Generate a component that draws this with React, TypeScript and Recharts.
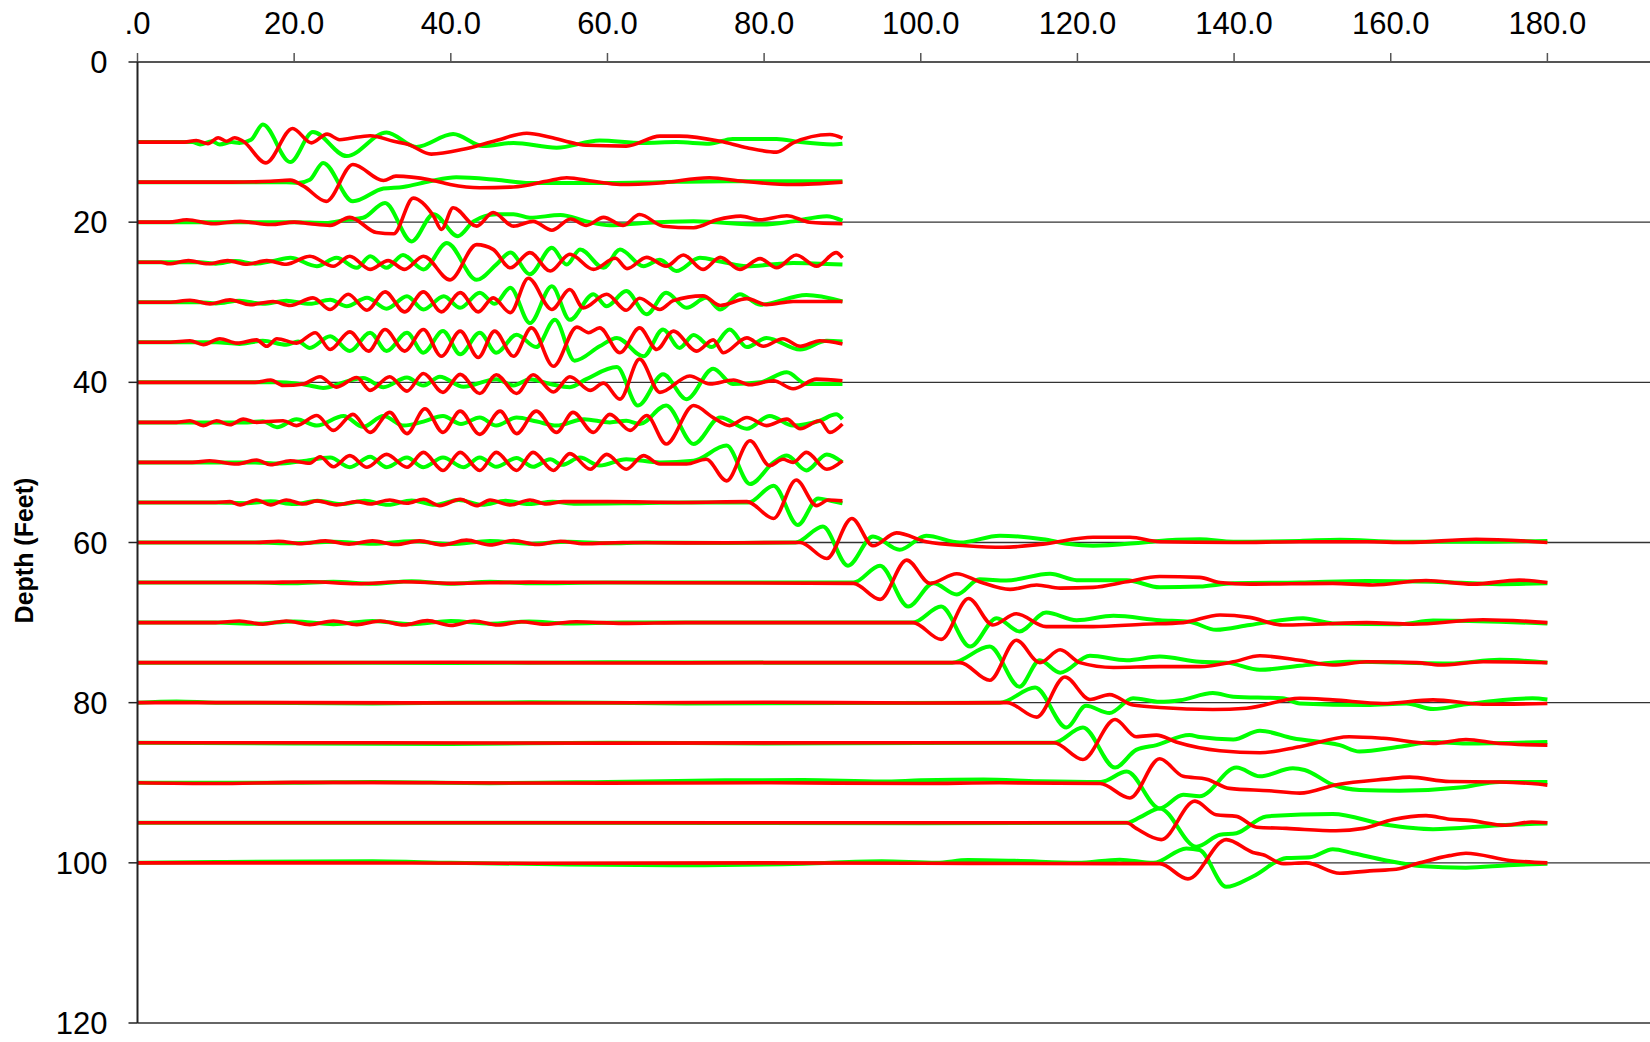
import { LineChart, Line, XAxis, YAxis, CartesianGrid } from 'recharts';

type Pt = [number, number];

// Depth of each trace baseline (feet) and axis ticks
const depths = [10, 15, 20, 25, 30, 35, 40, 45, 50, 55, 60, 65, 70, 75, 80, 85, 90, 95, 100];
const xTicks = [0, 20, 40, 60, 80, 100, 120, 140, 160, 180];
const yTicks = [0, 20, 40, 60, 80, 100, 120];

// Each trace: [x, deflection in feet from its baseline] (positive = deeper)
const g10: Pt[] = [[0,0],[7,0],[8,0.3],[9.5,-0.1],[10.5,0.3],[12,0],[13,0.1],[14.5,-0.3],[16,-2.2],[19.5,2.5],[22.4,-1.25],[26.7,1.75],[31.8,-1.2],[35.6,0.6],[40.3,-1.0],[44.1,0.5],[48,0.1],[53.5,0.7],[59,-0.2],[64.5,0.1],[68.8,0],[73,0.2],[76,-0.4],[81.6,-0.4],[84.6,0],[88.8,0.3],[90,0.2]];
const r10: Pt[] = [[0,0],[6,0],[7.5,-0.2],[9,0.2],[10.3,-0.55],[11.4,-0.1],[12.4,-0.55],[13.5,-0.1],[16.4,2.6],[19.8,-1.7],[22.2,0.1],[24.2,-1.0],[25.8,-0.3],[27,-0.45],[29.7,-0.8],[32.7,-0.1],[34.6,0.3],[37.5,1.5],[41.6,0.9],[45.8,-0.2],[49.7,-1.1],[52.7,-0.6],[56,0.2],[57.3,0.4],[62.4,0.5],[66.7,-0.75],[69.2,-0.75],[74.4,-0.1],[77.8,0.7],[81.6,1.25],[83.7,0.1],[88.4,-0.95],[90,-0.5]];

const g15: Pt[] = [[0,0],[19,0],[20.5,0.1],[22,-0.3],[23.7,-2.4],[27.5,2.4],[31.4,0.8],[33.9,0.6],[37.3,-0.1],[40.7,-0.6],[45.8,-0.3],[50.1,0.1],[56.3,0.1],[60.3,0.1],[66.7,0],[75.2,-0.1],[90,-0.1]];
const r15: Pt[] = [[0,0],[12,0],[17,-0.1],[19.5,-0.25],[21.2,0.5],[24.1,2.4],[27.5,-2.2],[31.4,-0.2],[33,-0.75],[37.3,-0.3],[39.9,0.3],[43.7,0.7],[48,0.6],[52.2,-0.1],[54.8,-0.55],[58.2,-0.1],[61.6,0.3],[66.7,0.1],[73,-0.55],[77.3,-0.1],[83.7,0.3],[90,0]];

const g20: Pt[] = [[0,0],[20,0],[24,0.1],[26.7,-0.3],[28.8,-0.55],[31.6,-2.4],[35,2.4],[37.8,-1.0],[40.9,1.75],[42.9,-0.1],[45.8,-1.0],[48,-1.0],[50.1,-0.55],[54,-0.9],[57.3,-0.1],[60.3,0.4],[64.6,0.1],[71,-0.1],[79.5,0.3],[83.7,-0.1],[88,-0.75],[90,-0.2]];
const r20: Pt[] = [[0,0],[4,0],[6.3,-0.3],[9.7,0.2],[13.1,-0.1],[17,0.3],[20,0],[22,0.2],[24.6,0.4],[27.1,-0.6],[30.5,1.3],[32.7,1.45],[35.2,-3.0],[37.8,-0.75],[38.8,0.9],[40.3,-1.8],[43.3,0.5],[45.4,-1.2],[48,0.5],[50.5,-0.1],[52.9,1.0],[55.3,-0.4],[57.3,0.4],[59.5,-0.6],[62,0.4],[64.1,-0.95],[67.1,0.5],[71,0.7],[74,-0.3],[77,-0.75],[79.5,-0.3],[82.9,-0.8],[85.8,0],[90,0.2]];

const g25: Pt[] = [[0,0],[8,0],[10,0.2],[12.5,-0.15],[15,0.2],[17.5,-0.2],[19.5,-0.55],[22.9,0.5],[25.4,-0.55],[28,0.7],[29.7,-0.75],[31.8,0.7],[33.9,-0.9],[36.5,0.9],[39.5,-2.4],[43.3,2.2],[45.8,0.3],[47.6,-1.2],[50.1,1.5],[52.9,-1.8],[54.8,0.3],[56.5,-1.6],[59.5,0.7],[61.6,-1.6],[64.6,0.5],[66.7,-0.3],[68.8,1.1],[71.8,-0.55],[74.4,-0.1],[77.8,0.5],[83.7,0.1],[90,0.3]];
const r25: Pt[] = [[0,0],[3,0],[4,0.2],[6.5,-0.2],[9,0.2],[11.5,-0.2],[14,0.25],[16.5,-0.2],[19,0.25],[22,-0.75],[25,0.5],[27.1,-0.75],[29.7,0.9],[32,-0.2],[34.1,0.9],[36.5,-0.75],[39.9,2.2],[43.3,-2.2],[45.4,-1.6],[47.6,0.7],[50.1,-1.2],[52.7,1.1],[55.2,-1.0],[58.2,0.9],[61,-0.5],[62.5,0.8],[65,-0.6],[67.5,0.5],[69.7,-0.9],[72.2,0.9],[74.4,-0.6],[76.9,0.9],[79.5,-0.45],[81.6,0.7],[84.1,-0.9],[86.7,0.5],[89.2,-1.2],[90,-0.55]];

const g30: Pt[] = [[0,0],[8,0],[10,0.15],[13,-0.2],[16,0.2],[19,-0.2],[22,0.2],[24.6,-0.3],[26.7,0.5],[29.3,-0.55],[31.8,0.8],[34.4,-0.75],[36.5,0.9],[39.1,-0.75],[41.2,0.7],[43.7,-1.2],[45.6,0.2],[47.6,-1.8],[50.1,2.6],[52.9,-2.0],[55.2,2.2],[58.2,-1.0],[59.9,0.5],[62.4,-1.4],[65,1.5],[67.5,-1.2],[70.1,0.7],[72.6,-0.55],[74.4,0.9],[76.9,-1.0],[79.5,0.3],[85.4,-0.9],[90,-0.1]];
const r30: Pt[] = [[0,0],[4,0],[6.7,-0.25],[9.25,0.2],[11.8,-0.3],[14.4,0.3],[17.3,-0.1],[19.5,0.4],[22.4,-0.55],[24.6,0.9],[26.9,-1.0],[29.3,1.0],[31.6,-1.3],[34.1,1.2],[36.5,-1.3],[38.8,1.2],[41.2,-1.2],[43.5,1.2],[45.4,-0.55],[47.6,1.3],[49.9,-3.0],[52.9,0.9],[55.2,-1.6],[56.9,0.7],[59.9,-1.0],[62.4,1.0],[64.1,-0.5],[66.7,0.9],[68.4,-0.2],[72.2,-0.8],[74.4,0.4],[77.8,-0.45],[80.3,0.3],[83.7,-0.1],[90,-0.1]];

const g35: Pt[] = [[0,0],[10,0],[13,0.2],[16,-0.2],[19,0.3],[20.5,-0.1],[22,0.7],[24.6,-0.75],[27.1,1.1],[29.7,-1.2],[31.8,1.1],[34.4,-1.2],[36.5,1.3],[39,-1.4],[41.2,1.5],[43.7,-1.2],[45.8,1.3],[48.4,-0.95],[50.9,0.6],[53.3,-2.8],[55.8,2.3],[59,0.5],[61.2,-0.55],[64.6,1.75],[67.1,-1.6],[69.2,0.7],[71,-0.9],[73.3,0.6],[75.6,-1.6],[77.8,0.6],[80.3,-0.55],[84.6,0.9],[88,-0.2],[90,-0.1]];
const r35: Pt[] = [[0,0],[4,0],[6.7,-0.2],[8.4,0.3],[10.5,-0.45],[12.7,0.1],[15.2,-0.3],[16.5,0.5],[17.8,-0.45],[20.3,0.1],[22.7,-1.2],[24.6,0.9],[27.1,-1.3],[29.5,1.1],[31.6,-1.6],[34.1,1.1],[36.5,-1.6],[38.8,1.75],[41.2,-1.4],[43.5,1.9],[45.6,-1.4],[48,1.75],[50.3,-1.8],[53.1,3.0],[56.1,-1.9],[57.6,-1.2],[59,-1.8],[61.6,1.3],[64.1,-1.8],[66.3,0.9],[68.4,-1.4],[71.4,1.1],[73.5,-0.3],[74.8,1.3],[77.8,-0.55],[79.9,0.5],[82.4,-0.45],[84.6,0.5],[87.1,-0.2],[90,0.2]];

const g40: Pt[] = [[0,0],[18,0],[20,0.1],[22,0.4],[23.7,0.7],[26.3,0],[28.8,-0.55],[31.4,0.6],[34.4,-0.6],[36.5,0.4],[38.6,-0.7],[41.6,0.55],[45.8,-0.4],[48,0.4],[50.1,-0.4],[52.7,0.2],[55.2,0.6],[57.3,-0.4],[61.2,-1.9],[63.9,2.9],[67.1,-1.0],[70.1,2.1],[73.5,-1.7],[76,0.2],[79.5,0],[82.9,-1.25],[85.4,0.2],[90,0.2]];
const r40: Pt[] = [[0,0],[15,0],[17,-0.3],[18.6,0.4],[21.2,0.2],[23.3,-0.7],[25.4,0.6],[28,-0.6],[29.7,1.0],[32.2,-0.7],[34.4,1.1],[36.5,-1.1],[39,1.25],[41.2,-1.0],[43.7,1.4],[45.8,-0.95],[48.4,1.4],[50.5,-0.95],[53.1,1.2],[55.2,-0.7],[57.8,1.0],[59.5,0.1],[61.6,2.1],[64.1,-2.9],[66.7,1.25],[70.5,-0.8],[73.1,0.2],[76.1,-0.3],[78.2,0.3],[81.2,-0.2],[83.7,0.8],[86.7,-0.4],[90,-0.2]];

const g45: Pt[] = [[0,0],[14,0],[16,-0.15],[17.8,0.6],[20.3,-0.4],[22.9,0.4],[26.3,-0.8],[28.8,0.55],[31.4,-0.8],[34,0.4],[36.5,-0.1],[39,-0.8],[41.3,0.2],[43.7,-0.6],[45.8,0.4],[48.4,-0.6],[51,-0.1],[53.5,0.4],[57,-0.4],[60.3,0],[62.4,-0.2],[64.1,0.2],[67.5,-2.1],[71,2.7],[74.4,-0.6],[77.8,0.8],[80.7,-0.8],[83.7,0.4],[87.1,-0.2],[89.2,-1.0],[90,-0.4]];
const r45: Pt[] = [[0,0],[5,0],[6.7,-0.2],[8.4,0.4],[10.1,-0.2],[11.8,0.3],[13.5,-0.4],[15.2,0],[16.5,-0.1],[18.6,-0.2],[20.3,0.4],[22.9,-0.85],[25,1.0],[27.5,-1.0],[29.7,1.25],[32.2,-1.25],[34.4,1.4],[36.7,-1.7],[39,1.25],[41.2,-1.4],[43.7,1.5],[46.3,-1.4],[48.4,1.4],[50.9,-1.4],[53.5,1.25],[55.6,-1.25],[58.2,1.25],[60.3,-1.0],[62.9,1.0],[65,-0.85],[67.5,2.7],[71,-2.1],[73.5,-0.6],[75.6,0.4],[77.8,-0.6],[80.3,0.4],[82.9,-0.4],[84.6,0.8],[87.1,-0.2],[88.4,1.25],[90,0.2]];

const g50: Pt[] = [[0,0],[15,0],[18,0.15],[21,-0.15],[24.6,-0.6],[27.1,0.6],[29.7,-0.7],[31.8,0.6],[34.4,-0.6],[36.5,0.6],[39,-0.6],[41.6,0.6],[43.7,-0.6],[45.8,0.55],[48.4,-0.55],[50.5,0.55],[52.7,-0.4],[54.2,0.3],[56.5,-0.6],[59,0.4],[62.4,-0.4],[66.7,0],[71,-0.2],[75.2,-2.1],[78.2,2.7],[81.2,0],[82.9,-0.85],[85.4,1.0],[88,-1.0],[90,0]];
const r50: Pt[] = [[0,0],[7,0],[9.2,-0.2],[12.7,0.2],[15.2,-0.3],[17,0.3],[19.5,-0.2],[22,0.1],[23.3,-0.7],[25,0.55],[27.1,-0.85],[29.3,0.6],[31.8,-1.0],[34.4,0.6],[36.5,-1.25],[39,1.0],[41.2,-1.25],[43.7,1.0],[45.8,-1.25],[48.4,1.0],[50.5,-1.25],[53.1,1.0],[55.2,-1.1],[57.8,0.85],[59.9,-1.0],[62.4,0.85],[64.6,-0.85],[66.7,0.2],[70.1,0.2],[72.6,-0.4],[75.2,2.3],[78.2,-2.7],[80.7,0.4],[82.4,-0.4],[83.7,0],[85.4,-1.25],[88,0.85],[90,-0.2]];

const g55: Pt[] = [[0,0],[10,0],[14,0.1],[17,-0.15],[20,0.2],[23,-0.2],[26,0.2],[29,-0.2],[32,0.3],[35,-0.25],[38,0.3],[41,-0.3],[44,0.3],[47,-0.2],[50,0.2],[53,-0.1],[56,0.15],[62,0.1],[70,0],[78,0],[81.2,-2.1],[84.3,2.8],[86.9,-0.5],[88.5,-0.2],[90,0.1]];
const r55: Pt[] = [[0,0],[10,0],[11.8,-0.1],[13.1,0.3],[15.2,-0.3],[17,0.3],[19,-0.3],[21.2,0.2],[22.9,-0.2],[25.4,0.3],[28,-0.1],[29.7,0.2],[32.2,-0.3],[34.4,0.1],[36.5,-0.4],[38.6,0.4],[41.2,-0.4],[43.3,0.4],[45,-0.3],[47.6,0.3],[50.1,-0.3],[52.2,0.2],[54.4,-0.1],[60,-0.1],[70,0],[77.8,-0.1],[81.2,2.0],[84.1,-2.8],[86.7,0.4],[88.2,-0.3],[90,-0.2]];

const g60: Pt[] = [[0,0],[15,0],[20,0.1],[25,-0.1],[30,0.15],[35,-0.15],[40,0.2],[45,-0.2],[50,0.15],[55,-0.1],[60,0.1],[65,0],[75,0.05],[84,0],[87.5,-2.0],[90.7,2.9],[93.9,-0.75],[97.3,0.9],[100.7,-0.85],[105,0],[110.1,-0.85],[115.6,-0.4],[119,0.2],[122,0.4],[128.4,0],[132.6,-0.35],[135.6,-0.4],[139.9,-0.1],[148.4,-0.2],[153.5,-0.35],[161.1,-0.1],[169.6,-0.1],[180,-0.2]];
const r60: Pt[] = [[0,0],[15,0],[18,-0.15],[21,0.15],[24,-0.2],[27,0.2],[30,-0.2],[33,0.25],[36,-0.2],[39,0.3],[42,-0.3],[45,0.3],[48,-0.25],[51,0.25],[54,-0.15],[57,0.15],[62,0],[70,0.05],[84.6,0],[88,2.0],[91.2,-3.0],[93.9,0.4],[96.9,-1.2],[100.7,-0.1],[105.8,0.4],[110.5,0.6],[115.6,0.2],[122,-0.65],[126.7,-0.65],[130.5,-0.1],[139.9,0],[148.4,-0.1],[157,-0.1],[162,0],[170.9,-0.4],[180,0]];

const g65: Pt[] = [[0,0],[15,0],[20,0.1],[25,-0.1],[30,0.15],[35,-0.15],[40,0.15],[45,-0.1],[50,0.1],[60,0],[91.4,0],[94.8,-2.1],[98.4,3.0],[101.6,0.1],[104.6,1.5],[107.5,-0.4],[110.9,-0.25],[116.5,-1.1],[119.9,-0.3],[126.3,-0.3],[130.5,0.6],[135.6,0.5],[139.9,0.1],[148.4,0],[156.9,-0.2],[165.4,-0.1],[173.9,0.2],[180,0.1]];
const r65: Pt[] = [[0,0],[15,0],[22,-0.1],[28,0.15],[34,-0.1],[40,0.1],[50,-0.05],[60,0],[91.4,0.1],[94.8,2.1],[98.2,-2.8],[101.2,0.1],[104.6,-1.1],[107.5,-0.1],[111.4,0.85],[114.8,0.3],[117.8,0.7],[122,0.6],[126.3,-0.1],[130.5,-0.75],[135.6,-0.65],[138.2,0],[142,0.2],[152.6,0.1],[157.7,0.3],[164.5,-0.25],[170.5,0.2],[176.4,-0.3],[180,0]];

const g70: Pt[] = [[0,0],[10,0],[15,0.15],[20,-0.15],[25,0.2],[30,-0.2],[35,0.2],[40,-0.2],[45,0.15],[50,-0.15],[55,0.1],[62,0],[99,0],[102.6,-2.0],[106.3,3.0],[109.7,-0.55],[112.6,1.1],[116,-1.25],[119.9,-0.3],[124.6,-0.85],[130.5,-0.3],[134.3,-0.1],[137.7,0.9],[142,0.3],[148.8,-0.55],[152.6,0.1],[161.1,0.2],[165.4,-0.25],[173.9,-0.1],[180,0.1]];
const r70: Pt[] = [[0,0],[10,0],[13,-0.2],[16,0.2],[19,-0.2],[22,0.25],[25,-0.2],[28,0.25],[31,-0.2],[34,0.3],[37,-0.25],[40,0.35],[43,-0.2],[46,0.3],[49,-0.1],[52,0.2],[56,-0.1],[62,0.1],[70,0],[99,0],[102.6,2.1],[106.1,-3.0],[109.2,0.3],[112.2,-1.1],[116,0.5],[122,0.5],[128.4,0.2],[133.5,0],[138.2,-0.95],[142,-0.65],[146.2,0.3],[150.5,0.2],[156.9,0],[162.8,0.2],[171.8,-0.35],[180,0]];

const g75: Pt[] = [[0,0],[20,0],[40,0.05],[60,-0.05],[80,0],[104,0],[108.8,-2.0],[112.6,3.0],[115.2,-0.3],[117.8,1.25],[121.6,-0.85],[126.3,-0.3],[130.5,-0.75],[135.6,-0.1],[139,0],[143.3,0.9],[148.4,0.4],[154.7,-0.1],[161.1,0],[167.5,0.1],[173.9,-0.35],[180,0]];
const r75: Pt[] = [[0,0],[20,0],[40,-0.05],[60,0.05],[80,0],[105,0],[108.8,2.2],[112.2,-2.8],[115.2,0],[117.8,-1.6],[120.3,0],[124.6,0.6],[130.5,0.5],[135.6,0.5],[139.9,-0.1],[143.3,-0.85],[148.4,-0.3],[152.6,0.3],[156.9,-0.1],[163.3,0],[166.3,0.3],[171.8,-0.1],[180,0]];

const g80: Pt[] = [[0,0],[5,-0.15],[10,0],[30,0.1],[50,-0.05],[70,0.1],[90,0.05],[110.1,0],[114.6,-1.9],[118.6,3.1],[121.1,0.4],[124.1,1.3],[127.1,-0.55],[130.5,-0.1],[133.1,-0.3],[137.3,-1.2],[139.9,-0.75],[146.2,-0.55],[148.4,0.1],[156.9,0.3],[162,0.1],[165.4,0.8],[169.6,0.2],[178.1,-0.55],[180,-0.4]];
const r80: Pt[] = [[0,0],[20,0],[50,0.05],[80,-0.05],[100,0.05],[111,0],[114.8,1.8],[118.4,-3.2],[121.6,-0.4],[124.1,-1.0],[127.1,0.3],[130.5,0.6],[137.3,0.85],[141.6,0.7],[148.4,-0.55],[152.6,-0.35],[159,0.1],[165.4,-0.35],[171.8,0.2],[180,0.1]];

const g85: Pt[] = [[0,0],[20,0.1],[40,0.15],[60,0],[80,0.1],[100,0.05],[117,0],[120.7,-1.9],[124.8,3.1],[127.5,0.9],[130.1,0.3],[134.3,-0.95],[135.6,-0.7],[139.9,-0.4],[143.3,-1.5],[147.5,-0.55],[153.5,0.3],[156,1.1],[161.1,0.5],[165.4,-0.1],[169.6,0.1],[180,-0.1]];
const r85: Pt[] = [[0,0],[30,0],[60,0.05],[90,0],[117,0],[120.7,2.1],[124.8,-2.9],[127.5,-0.75],[130.1,-0.95],[132.6,-0.1],[138.2,1.0],[143.3,1.25],[148.4,0.5],[154.7,-0.75],[159,-0.55],[165.4,0.1],[169.6,-0.4],[173.9,0.1],[180,0.3]];

const g90: Pt[] = [[0,0],[20,0],[30,-0.1],[45,0.05],[60,-0.1],[75,-0.3],[85,-0.35],[95,-0.15],[100,-0.3],[108,-0.4],[115,-0.2],[123,-0.1],[126.3,-1.4],[130.5,3.2],[133.5,1.5],[135.6,1.7],[140.3,-1.9],[143.3,-0.8],[147.5,-1.8],[149,-1.6],[152.6,0.25],[156,0.9],[161.1,1.0],[168.8,0.6],[173.9,-0.1],[180,-0.1]];
const r90: Pt[] = [[0,0],[10,0.1],[20,-0.05],[40,0],[60,0.05],[80,0],[100,0.1],[110,0],[122.9,0.1],[126.7,1.9],[130.5,-3.0],[133.5,-0.8],[136.5,-0.45],[139.4,0.7],[144.5,1.0],[148.4,1.3],[153.1,0.25],[159.4,-0.45],[162.4,-0.7],[167.5,-0.15],[173.9,-0.1],[178,0.1],[180,0.3]];

const g95: Pt[] = [[0,0],[50,0],[100,0.05],[126.3,0],[128,-0.7],[130.5,-1.8],[135.2,3.0],[138.2,1.5],[140.3,1.3],[144.1,-0.8],[152.6,-1.1],[159.4,0.25],[165.4,0.8],[173.9,0.3],[180,0.1]];
const r95: Pt[] = [[0,0],[50,0],[100,0],[126.3,0],[127.5,0.7],[130.7,2.1],[135,-2.7],[137.7,-1.0],[140.3,-0.8],[142.9,0.55],[146.7,0.7],[153,1.0],[156.5,0.7],[160.3,-0.4],[164.5,-0.9],[167.5,-0.45],[170,-0.3],[174.7,0.3],[178,-0.1],[180,0]];

const g100: Pt[] = [[0,0],[10,-0.1],[30,-0.2],[40,0],[55,0.2],[70,0.3],[85,0.1],[95,-0.2],[102,0],[106,-0.35],[112,-0.25],[120,0],[125.4,-0.4],[129.7,0],[133.9,-1.8],[135.6,-1.6],[139,3.0],[142.4,1.7],[146.7,-0.6],[149.7,-0.7],[152.6,-1.7],[155.2,-1.2],[159.4,-0.3],[163.7,0.4],[169.6,0.6],[175,0.3],[180,0.1]];
const r100: Pt[] = [[0,0],[20,0],[50,0.05],[80,0],[100,0.05],[125.4,0.1],[130.5,0.1],[134.1,2.0],[139,-2.9],[142.4,-1.3],[143.7,-1.0],[146.3,0.1],[149.2,0],[153.5,1.3],[157.3,1.0],[160.7,0.8],[163.7,0],[167.5,-0.9],[169.6,-1.2],[175.2,-0.3],[180,0]];

const greenTraces = [g10, g15, g20, g25, g30, g35, g40, g45, g50, g55, g60, g65, g70, g75, g80, g85, g90, g95, g100];
const redTraces = [r10, r15, r20, r25, r30, r35, r40, r45, r50, r55, r60, r65, r70, r75, r80, r85, r90, r95, r100];

const toSeries = (depth: number, pts: Pt[]) => pts.map(([x, dy]) => ({ x, y: depth + dy }));

const FONT = '"Liberation Sans", Arial, Helvetica, sans-serif';

const DepthLabel = (props: any) => {
    const vb = props.viewBox || { x: 0, y: 0, width: 0, height: 0 };
    const cx = 24;
    const cy = vb.y + vb.height / 2 + 8;
    return (
        <text
            x={cx}
            y={cy}
            transform={`rotate(-90 ${cx} ${cy})`}
            textAnchor="middle"
            dominantBaseline="central"
            fontFamily={FONT}
            fontWeight="bold"
            fontSize={25}
            fill="#000"
        >
            Depth (Feet)
        </text>
    );
};

export default function App() {
    return (
        <div style={{ width: 1650, height: 1042, background: '#fff', overflow: 'hidden' }}>
            <style>{'body { margin: 0; overflow: hidden; background: #fff; }'}</style>
            <LineChart width={1650} height={1042} margin={{ top: 0, right: 0, bottom: 19, left: 0 }}>
                <CartesianGrid vertical={false} stroke="#333" strokeWidth={1.3} />
                <XAxis
                    type="number"
                    dataKey="x"
                    orientation="top"
                    domain={[0, 193.1]}
                    ticks={xTicks}
                    allowDataOverflow
                    height={62}
                    tickSize={9}
                    tickMargin={19}
                    tickFormatter={(v: number) => (v === 0 ? '.0' : v.toFixed(1))}
                    tick={{ fill: '#000', fontSize: 31, fontFamily: FONT }}
                    axisLine={{ stroke: '#555', strokeWidth: 2 }}
                    tickLine={{ stroke: '#555', strokeWidth: 1.5 }}
                />
                <YAxis
                    type="number"
                    domain={[0, 120]}
                    reversed
                    ticks={yTicks}
                    width={137.5}
                    tickSize={9}
                    tickMargin={21}
                    tick={{ fill: '#000', fontSize: 31, fontFamily: FONT }}
                    axisLine={{ stroke: '#222', strokeWidth: 2 }}
                    tickLine={{ stroke: '#222', strokeWidth: 1.5 }}
                    label={{ content: DepthLabel }}
                />
                {depths.map((d, i) => (
                    <Line
                        key={'g' + d}
                        data={toSeries(d, greenTraces[i])}
                        dataKey="y"
                        type="monotone"
                        stroke="#00ff00"
                        strokeWidth={4}
                        dot={false}
                        activeDot={false}
                        isAnimationActive={false}
                    />
                ))}
                {depths.map((d, i) => (
                    <Line
                        key={'r' + d}
                        data={toSeries(d, redTraces[i])}
                        dataKey="y"
                        type="monotone"
                        stroke="#ff0000"
                        strokeWidth={3.6}
                        dot={false}
                        activeDot={false}
                        isAnimationActive={false}
                    />
                ))}
            </LineChart>
        </div>
    );
}
